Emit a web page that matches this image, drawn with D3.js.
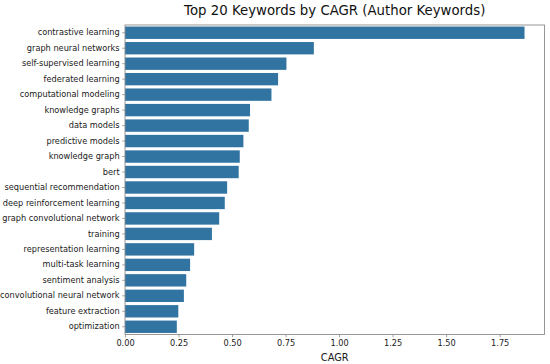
<!DOCTYPE html>
<html>
<head>
<meta charset="utf-8">
<script src="https://cdn.jsdelivr.net/npm/d3@7"></script>
<style>
  html, body { margin: 0; padding: 0; background: #fff; }
  svg { display: block; font-family: "DejaVu Sans", sans-serif; }
</style>
</head>
<body>
<svg id="chart" width="550" height="364"></svg>
<script>
const keywords = [
  "contrastive learning", "graph neural networks", "self-supervised learning",
  "federated learning", "computational modeling", "knowledge graphs",
  "data models", "predictive models", "knowledge graph", "bert",
  "sequential recommendation", "deep reinforcement learning",
  "graph convolutional network", "training", "representation learning",
  "multi-task learning", "sentiment analysis", "convolutional neural network",
  "feature extraction", "optimization"
];
const cagr = [
  1.866, 0.882, 0.754, 0.715, 0.684, 0.584, 0.578, 0.553, 0.536, 0.531,
  0.477, 0.466, 0.440, 0.406, 0.323, 0.304, 0.286, 0.275, 0.249, 0.242
];
const xTicks = [0, 0.25, 0.5, 0.75, 1.0, 1.25, 1.5, 1.75];
const titleText = "Top 20 Keywords by CAGR (Author Keywords)";
const xLabelText = "CAGR";

const data = keywords.map((k, i) => ({ k, v: cagr[i] }));

const svg = d3.select("#chart");
const m = { left: 125, right: 544.5, top: 25, bottom: 334.5 };

const x = d3.scaleLinear()
  .domain([0, d3.max(cagr) * 1.05])
  .range([m.left, m.right]);

const y = d3.scaleBand()
  .domain(keywords)
  .range([m.top, m.bottom])
  .paddingInner(0.2)
  .paddingOuter(0.1);

// bars
svg.append("g").selectAll("rect")
  .data(data)
  .enter().append("rect")
  .attr("x", x(0))
  .attr("y", d => y(d.k))
  .attr("width", d => x(d.v) - x(0))
  .attr("height", y.bandwidth())
  .attr("fill", "#3274a1");

// frame (spines)
const spineColor = "#8c8c8c";
svg.append("rect")
  .attr("x", m.left)
  .attr("y", m.top)
  .attr("width", m.right - m.left)
  .attr("height", m.bottom - m.top)
  .attr("fill", "none")
  .attr("stroke", spineColor)
  .attr("stroke-width", 0.9);

const textColor = "#1a1a1a";

// x axis
const xAxis = d3.axisBottom(x)
  .tickValues(xTicks)
  .tickFormat(d3.format(".2f"))
  .tickSize(2.8)
  .tickPadding(2.6);
const gx = svg.append("g")
  .attr("transform", `translate(0,${m.bottom})`)
  .call(xAxis);
gx.select(".domain").remove();
gx.selectAll(".tick line").attr("stroke", spineColor).attr("stroke-width", 0.8);
gx.selectAll(".tick text")
  .attr("fill", textColor)
  .style("font-family", "'DejaVu Sans', sans-serif")
  .style("font-size", "8.2px");

// y axis
const yAxis = d3.axisLeft(y).tickSize(2.8).tickPadding(2.6);
const gy = svg.append("g")
  .attr("transform", `translate(${m.left},0)`)
  .call(yAxis);
gy.select(".domain").remove();
gy.selectAll(".tick line").attr("stroke", spineColor).attr("stroke-width", 0.8);
gy.selectAll(".tick text")
  .attr("fill", textColor)
  .style("font-family", "'DejaVu Sans', sans-serif")
  .style("font-size", "8.2px");

// x label
svg.append("text")
  .attr("x", (m.left + m.right) / 2)
  .attr("y", 360.5)
  .attr("text-anchor", "middle")
  .attr("fill", textColor)
  .style("font-size", "9.8px")
  .text(xLabelText);

// title
svg.append("text")
  .attr("x", (m.left + m.right) / 2)
  .attr("y", 14.5)
  .attr("text-anchor", "middle")
  .attr("fill", "#111")
  .style("font-size", "13.3px")
  .text(titleText);
</script>
</body>
</html>
